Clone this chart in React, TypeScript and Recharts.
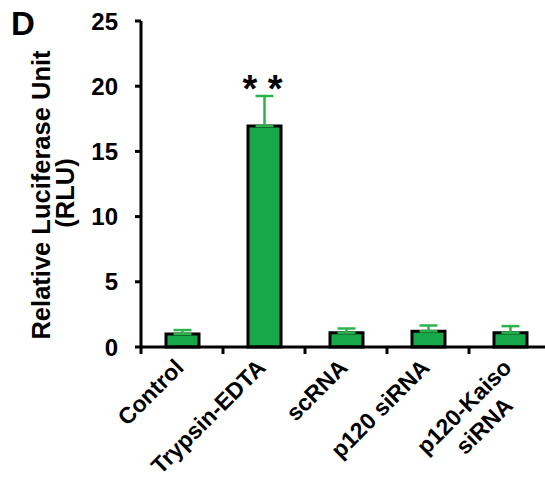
import { BarChart, Bar, XAxis, YAxis, ErrorBar, LabelList, Customized } from "recharts";

const categories = ["Control", "Trypsin-EDTA", "scRNA", "p120 siRNA", "p120-Kaiso siRNA"];
const tickLabels = [["Control"], ["Trypsin-EDTA"], ["scRNA"], ["p120 siRNA"], ["p120-Kaiso", "siRNA"]];
const rlu = [1.0, 16.95, 1.1, 1.2, 1.1];
const rluError = [0.3, 2.3, 0.32, 0.45, 0.5];
const significance = ["", "* *", "", "", ""];
const yTicks = [0, 5, 10, 15, 20, 25];

const data = categories.map((name, i) => ({
  name,
  rlu: rlu[i],
  err: [0, rluError[i]],
  sig: significance[i],
}));

const FONT = "'Liberation Sans', Arial, sans-serif";
const GREEN = "#17a84a";
const ERR_GREEN = "#2db34b";

function CategoryTick(props: any) {
  const { x, y, payload, index } = props;
  const half = payload?.offset || 41;
  const lines = tickLabels[index] || [String(payload?.value)];
  return (
    <g>
      <line x1={x - half} x2={x - half} y1={y} y2={y + 7} stroke="#000" strokeWidth={3} />
      <g transform={`translate(${x + 3},${y + 22}) rotate(-45)`}>
        <text textAnchor="end" fontSize={23} fontWeight="bold" fill="#000" fontFamily={FONT}>
          {lines.map((l: string, i: number) => (
            <tspan key={i} x={i === 0 ? 0 : -26} dy={i === 0 ? 0 : "1.2em"}>
              {l}
            </tspan>
          ))}
        </text>
      </g>
    </g>
  );
}

function SigLabel(props: any) {
  const { x, y, width, value } = props;
  if (!value) return null;
  return (
    <text
      x={x + width / 2 - 2}
      y={y - 24}
      textAnchor="middle"
      fontSize={38}
      fontWeight="bold"
      fill="#000"
      fontFamily={FONT}
    >
      {value}
    </text>
  );
}

function Decorations() {
  return (
    <g fontFamily={FONT} fontWeight="bold" fill="#000">
      <text x={11} y={35} fontSize={33}>D</text>
      <text transform="translate(50,195) rotate(-90)" textAnchor="middle" fontSize={25.5}>
        Relative Luciferase Unit
      </text>
      <text transform="translate(74,193) rotate(-90)" textAnchor="middle" fontSize={25.5}>
        (RLU)
      </text>
    </g>
  );
}

export default function App() {
  return (
    <div
      style={{
        position: "absolute",
        left: 0,
        top: 0,
        width: 545,
        height: 479,
        overflow: "hidden",
        background: "#fff",
        fontFamily: FONT,
      }}
    >
      <BarChart
        width={551}
        height={479}
        data={data}
        margin={{ top: 21, right: 0, left: 0, bottom: 0 }}
        barSize={33}
        barGap={-33}
      >
        <XAxis
          dataKey="name"
          interval={0}
          height={132}
          tickLine={false}
          tickSize={0}
          tickMargin={0}
          axisLine={{ stroke: "#000", strokeWidth: 3 }}
          tick={<CategoryTick />}
        />
        <YAxis
          width={141}
          domain={[0, 25]}
          ticks={yTicks}
          interval={0}
          tickSize={6}
          tickMargin={17}
          axisLine={{ stroke: "#000", strokeWidth: 3 }}
          tickLine={{ stroke: "#000", strokeWidth: 3 }}
          tick={{ fontSize: 24, fontWeight: "bold", fill: "#000", fontFamily: FONT }}
        />
        <Bar dataKey="rlu" fill="none" stroke="none" isAnimationActive={false}>
          <ErrorBar dataKey="err" width={9} stroke={ERR_GREEN} strokeWidth={2.5} direction="y" />
        </Bar>
        <Bar dataKey="rlu" fill={GREEN} stroke="#000" strokeWidth={3} isAnimationActive={false}>
          <LabelList dataKey="sig" content={<SigLabel />} />
        </Bar>
        <Customized component={<Decorations />} />
      </BarChart>
    </div>
  );
}
